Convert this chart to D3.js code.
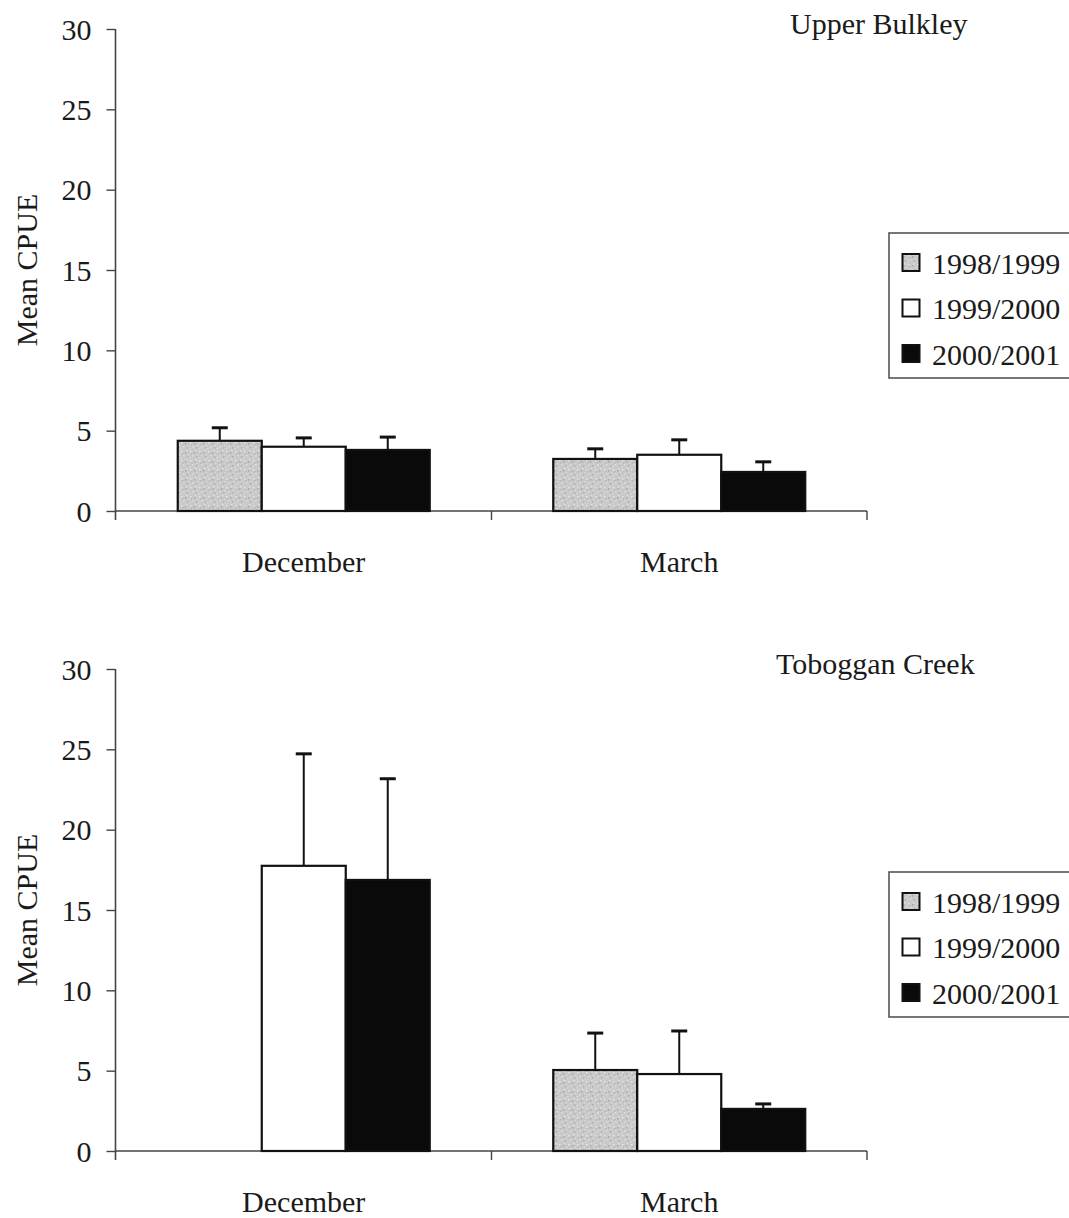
<!DOCTYPE html>
<html>
<head>
<meta charset="utf-8">
<script src="https://cdn.jsdelivr.net/npm/d3@7"></script>
<style>
  html, body { margin: 0; padding: 0; background: #fff; }
  svg { display: block; }
  text { font-family: "Liberation Serif", "Times New Roman", serif; fill: #1a1a1a; }
</style>
</head>
<body>
<svg id="chart" width="1069" height="1218"></svg>
<script>
// Mean CPUE by sampling month and winter season, two sites
const months = ["December", "March"];
const seasons = ["1998/1999", "1999/2000", "2000/2001"];
const yTicks = [0, 5, 10, 15, 20, 25, 30];

// Upper Bulkley: means and error bars (SE), ordered by season
const upperBulkleyMeans = [[4.37, 4.0, 3.8], [3.24, 3.5, 2.43]];
const upperBulkleyErr   = [[0.81, 0.55, 0.8], [0.63, 0.93, 0.63]];

// Toboggan Creek: no 1998/1999 December sample
const tobogganMeans = [[null, 17.75, 16.87], [5.04, 4.79, 2.62]];
const tobogganErr   = [[null, 6.97, 6.3], [2.3, 2.68, 0.31]];

const panels = [
  { title: "Upper Bulkley", means: upperBulkleyMeans, errs: upperBulkleyErr,
    yTop: 29, yBottom: 511, titleX: 790, titleY: 34, legendTop: 233 },
  { title: "Toboggan Creek", means: tobogganMeans, errs: tobogganErr,
    yTop: 669, yBottom: 1151, titleX: 776, titleY: 674, legendTop: 872 }
];

const svg = d3.select("#chart");
const defs = svg.append("defs");

// Stippled light-grey fill for the first season
const pat = defs.append("pattern")
  .attr("id", "stipple").attr("patternUnits", "userSpaceOnUse")
  .attr("width", 9).attr("height", 9);
pat.append("rect").attr("width", 9).attr("height", 9).attr("fill", "#c9c9c9");
[[1,1,"#e6e6e6"],[5,2,"#a8a8a8"],[3,5,"#dedede"],[7,6,"#b0b0b0"],[0,7,"#d8d8d8"],[6,0,"#e2e2e2"],[2,3,"#b8b8b8"],[8,4,"#dadada"]]
  .forEach(([x, y, c]) => pat.append("rect").attr("x", x).attr("y", y)
    .attr("width", 1.5).attr("height", 1.5).attr("fill", c));

const fills = { "1998/1999": "url(#stipple)", "1999/2000": "#ffffff", "2000/2001": "#0a0a0a" };

const xLeft = 116, xRight = 867;
const x0 = d3.scaleBand().domain(months).range([xLeft, xRight]);
const groupGap = 61.75;
const x1 = d3.scaleBand().domain(seasons).range([groupGap, x0.bandwidth() - groupGap]);

panels.forEach(p => {
  const y = d3.scaleLinear().domain([0, 30]).range([p.yBottom, p.yTop]);
  const g = svg.append("g");

  // Y axis
  const yAxis = d3.axisLeft(y).tickValues(yTicks).tickSize(9).tickPadding(15).tickSizeOuter(0);
  const ya = g.append("g").attr("transform", `translate(${xLeft - 0.5},0)`).call(yAxis);
  ya.select(".domain").attr("stroke", "#444").attr("stroke-width", 1.6)
    .attr("d", `M0,${p.yTop}V${p.yBottom + 9}`);
  ya.selectAll(".tick line").attr("stroke", "#444").attr("stroke-width", 1.4);
  ya.selectAll(".tick text").attr("font-size", 30).attr("fill", "#1a1a1a")
    .attr("font-family", "Liberation Serif, Times New Roman, serif").attr("dy", "0.34em");

  // X axis with ticks at category boundaries
  const xa = g.append("g").attr("transform", `translate(0,${p.yBottom})`);
  xa.append("line").attr("x1", xLeft).attr("x2", xRight)
    .attr("stroke", "#444").attr("stroke-width", 1.6);
  const bounds = [xLeft].concat(months.map(m => x0(m) + x0.bandwidth()));
  xa.selectAll(".xtick").data(bounds.slice(1)).join("line")
    .attr("x1", d => d).attr("x2", d => d).attr("y1", 0).attr("y2", 9)
    .attr("stroke", "#444").attr("stroke-width", 1.4);
  xa.selectAll(".mlabel").data(months).join("text")
    .attr("x", d => x0(d) + x0.bandwidth() / 2).attr("y", 61)
    .attr("text-anchor", "middle").attr("font-size", 30).text(d => d);

  // Bars and error bars
  const rows = [];
  months.forEach((m, i) => seasons.forEach((s, j) => {
    if (p.means[i][j] != null) rows.push({ m, s, v: p.means[i][j], e: p.errs[i][j] });
  }));

  const bars = g.append("g");
  // error bars first so bar tops sit over their stems
  bars.selectAll(".stem").data(rows).join("line")
    .attr("x1", d => x0(d.m) + x1(d.s) + x1.bandwidth() / 2)
    .attr("x2", d => x0(d.m) + x1(d.s) + x1.bandwidth() / 2)
    .attr("y1", d => y(d.v)).attr("y2", d => y(d.v + d.e))
    .attr("stroke", "#111").attr("stroke-width", 2);
  bars.selectAll(".cap").data(rows).join("line")
    .attr("x1", d => x0(d.m) + x1(d.s) + x1.bandwidth() / 2 - 8)
    .attr("x2", d => x0(d.m) + x1(d.s) + x1.bandwidth() / 2 + 8)
    .attr("y1", d => y(d.v + d.e)).attr("y2", d => y(d.v + d.e))
    .attr("stroke", "#111").attr("stroke-width", 3);
  bars.selectAll(".bar").data(rows).join("rect")
    .attr("x", d => x0(d.m) + x1(d.s))
    .attr("y", d => y(d.v))
    .attr("width", x1.bandwidth())
    .attr("height", d => y(0) - y(d.v))
    .attr("fill", d => fills[d.s])
    .attr("stroke", "#111").attr("stroke-width", 2.2);

  // Y axis title
  g.append("text")
    .attr("transform", `translate(37,${(p.yTop + p.yBottom) / 2}) rotate(-90)`)
    .attr("text-anchor", "middle").attr("font-size", 30).text("Mean CPUE");

  // Panel title
  g.append("text").attr("x", p.titleX).attr("y", p.titleY)
    .attr("font-size", 30).text(p.title);

  // Legend
  const lg = g.append("g").attr("transform", `translate(889,${p.legendTop})`);
  lg.append("rect").attr("x", 0).attr("y", 0).attr("width", 200).attr("height", 145)
    .attr("fill", "#fff").attr("stroke", "#555").attr("stroke-width", 1.6);
  const item = lg.selectAll(".item").data(seasons).join("g")
    .attr("transform", (d, i) => `translate(0,${30 + i * 45.5})`);
  item.append("rect").attr("x", 13.5).attr("y", -9).attr("width", 17).attr("height", 17)
    .attr("fill", d => fills[d]).attr("stroke", "#111").attr("stroke-width", 2);
  item.append("text").attr("x", 43).attr("y", 10.5).attr("font-size", 30).text(d => d);
});
</script>
</body>
</html>
